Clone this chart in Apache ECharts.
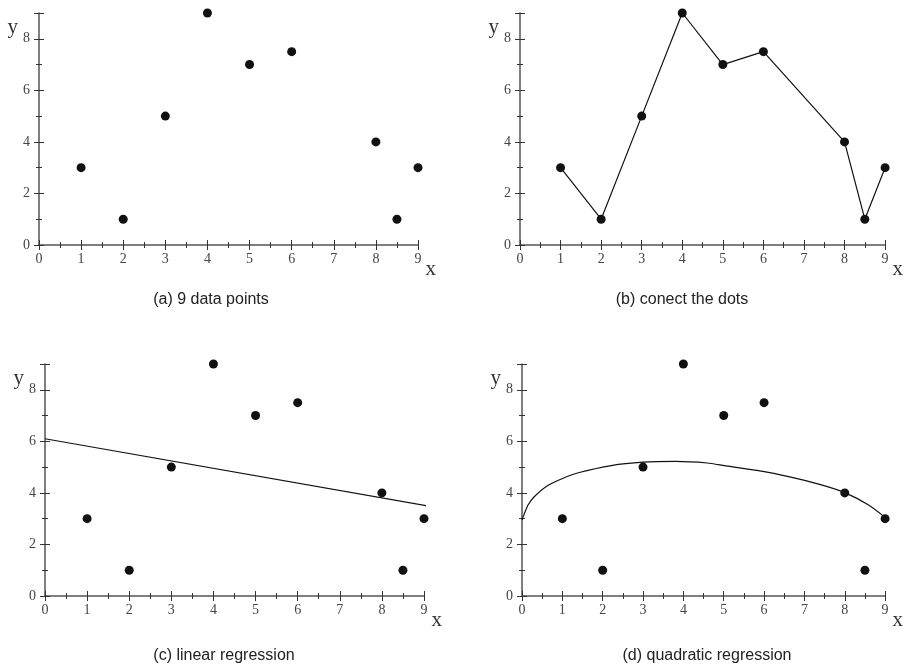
<!DOCTYPE html>
<html>
<head>
<meta charset="utf-8">
<script src="https://cdn.jsdelivr.net/npm/echarts@6/dist/echarts.min.js"></script>
<style>
  html, body { margin: 0; padding: 0; background: #fff; }
  #main { width: 904px; height: 671px; }
</style>
</head>
<body>
<div id="main"></div>
<script>
// the 9 data points
const pointX = [1, 2, 3, 4, 5, 6, 8, 8.5, 9];
const pointY = [3, 1, 5, 9, 7, 7.5, 4, 1, 3];

// fitted line (c)
const lineX = [0, 9.3];
const lineY = [6.1, 3.43];

// fitted curve (d)
const curveX = [0, 0.03, 0.15, 0.31, 0.63, 1.02, 1.42, 2.21, 3.0, 3.8, 4.59, 5.02, 5.82, 6.61, 7.4, 8.0, 8.59, 9.0];
const curveY = [2.95, 3.08, 3.53, 3.86, 4.28, 4.57, 4.79, 5.06, 5.19, 5.22, 5.16, 5.06, 4.87, 4.63, 4.32, 4.01, 3.53, 3.05];

const captions = ['(a) 9 data points', '(b) conect the dots', '(c) linear regression', '(d) quadratic regression'];

const zip = (xs, ys) => xs.map((x, i) => [x, ys[i]]);

const axisColor = '#555';
const tickColor = '#333';
const serif = '"Liberation Serif", "DejaVu Serif", serif';

const grids = [
  { left: 39, top: 13, width: 379, height: 232 },
  { left: 520, top: 13, width: 379, height: 232 },
  { left: 45, top: 364, width: 379, height: 232 },
  { left: 522, top: 364, width: 379, height: 232 }
];

const xAxes = [];
const yAxes = [];

grids.forEach((g, i) => {
  // main axes: line, labels, ticks pointing out
  xAxes.push({
    gridIndex: i, type: 'value', position: 'bottom', min: 0, max: 9, interval: 1,
    name: 'x', nameLocation: 'end', nameGap: -6,
    nameTextStyle: { fontFamily: serif, fontSize: 21, color: '#333', align: 'center', verticalAlign: 'top', padding: [14, 0, 0, 0] },
    axisLine: { onZero: false, lineStyle: { color: axisColor, width: 1.5 } },
    axisTick: { length: 5, lineStyle: { color: tickColor } },
    minorTick: { show: true, splitNumber: 2, length: 3, lineStyle: { color: tickColor } },
    axisLabel: { margin: 7, fontFamily: serif, fontSize: 14, color: '#444' },
    splitLine: { show: false }
  });
  yAxes.push({
    gridIndex: i, type: 'value', position: 'left', min: 0, max: 9, interval: 2,
    name: 'y', nameLocation: 'end', nameGap: -14,
    nameTextStyle: { fontFamily: serif, fontSize: 21, color: '#333', align: 'right', verticalAlign: 'middle', padding: [0, 21, 0, 0] },
    axisLine: { onZero: false, lineStyle: { color: axisColor, width: 1.5 } },
    axisTick: { length: 5, lineStyle: { color: tickColor } },
    minorTick: { show: true, splitNumber: 2, length: 3, lineStyle: { color: tickColor } },
    axisLabel: { margin: 9, fontFamily: serif, fontSize: 14, color: '#444', showMaxLabel: false },
    splitLine: { show: false }
  });
});

// second set of axes on the same side, ticks pointing in so they cross the line
grids.forEach((g, i) => {
  xAxes.push({
    gridIndex: i, type: 'value', position: 'bottom', min: 0, max: 9, interval: 1,
    axisLine: { show: false, onZero: false },
    axisTick: { inside: true, length: 5, lineStyle: { color: tickColor } },
    minorTick: { show: true, splitNumber: 2, length: 3, lineStyle: { color: tickColor } },
    axisLabel: { show: false },
    splitLine: { show: false }
  });
  yAxes.push({
    gridIndex: i, type: 'value', position: 'left', min: 0, max: 9, interval: 2,
    axisLine: { show: false, onZero: false },
    axisTick: { inside: true, length: 5, lineStyle: { color: tickColor } },
    minorTick: { show: true, splitNumber: 2, length: 3, lineStyle: { color: tickColor } },
    axisLabel: { show: false },
    splitLine: { show: false }
  });
});

const dots = (i) => ({
  type: 'scatter', xAxisIndex: i, yAxisIndex: i, clip: false,
  symbolSize: 9, itemStyle: { color: '#111', opacity: 1 },
  data: zip(pointX, pointY), z: 5
});

const series = [
  dots(0),
  dots(1),
  {
    type: 'line', xAxisIndex: 1, yAxisIndex: 1, clip: false,
    showSymbol: false, lineStyle: { color: '#111', width: 1.2 },
    data: zip(pointX, pointY)
  },
  dots(2),
  {
    type: 'line', xAxisIndex: 2, yAxisIndex: 2, clip: false,
    showSymbol: false, lineStyle: { color: '#111', width: 1.2 },
    data: zip(lineX, lineY)
  },
  dots(3),
  {
    type: 'line', xAxisIndex: 3, yAxisIndex: 3, clip: false, smooth: 0.25,
    showSymbol: false, lineStyle: { color: '#111', width: 1.2 },
    data: zip(curveX, curveY)
  }
];

const captionPos = [[211, 300], [682, 300], [224, 656], [707, 656]];
const graphic = captions.map((t, i) => ({
  type: 'text', x: captionPos[i][0], y: captionPos[i][1],
  style: {
    text: t, align: 'center', verticalAlign: 'middle',
    fontFamily: '"Liberation Sans", Arial, sans-serif', fontSize: 16, fill: '#222'
  }
}));

const chart = echarts.init(document.getElementById('main'));
chart.setOption({
  animation: false,
  grid: grids,
  xAxis: xAxes,
  yAxis: yAxes,
  series: series,
  graphic: graphic
});
</script>
</body>
</html>
